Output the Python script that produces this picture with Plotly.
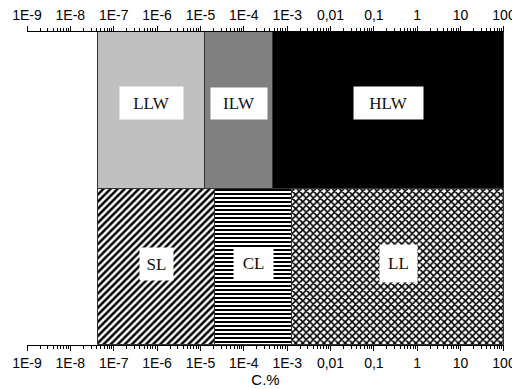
import numpy as np
import plotly.graph_objects as go

# ---- data ----
categories = ["LLW", "ILW", "HLW", "SL", "CL", "LL"]
lower = [4.3e-8, 1.25e-5, 4.6e-4, 4.3e-8, 2.2e-5, 1.3e-3]
upper = [1.25e-5, 4.6e-4, 100.0, 2.2e-5, 1.3e-3, 100.0]
row = [1.5, 1.5, 1.5, 0.5, 0.5, 0.5]
tick_vals = [1e-9, 1e-8, 1e-7, 1e-6, 1e-5, 1e-4, 1e-3, 1e-2, 1e-1, 1, 10, 100]
tick_text = ["1E-9", "1E-8", "1E-7", "1E-6", "1E-5", "1E-4", "1E-3", "0,01", "0,1", "1", "10", "100"]

# ---- styles ----
fills = {"LLW": "#c0c0c0", "ILW": "#808080", "HLW": "#000000",
         "SL": "white", "CL": "white", "LL": "white"}
patterns = {"SL": dict(shape="/", size=5, solidity=0.5, fgcolor="black", bgcolor="white", fgopacity=1),
            "CL": dict(shape="-", size=4, solidity=0.5, fgcolor="black", bgcolor="white", fgopacity=1),
            "LL": dict(shape="x", size=5, solidity=0.55, fgcolor="black", bgcolor="white", fgopacity=1)}
box_size = {"LLW": (63, 32), "ILW": (56, 31), "HLW": (69, 32),
            "SL": (33, 32), "CL": (39, 31), "LL": (37, 37)}
label_y = {1.5: 1.545, 0.5: 0.52}

fig = go.Figure()
for c, lo, hi, r in zip(categories, lower, upper, row):
    marker = dict(color=fills[c], line=dict(color="#333333", width=1))
    if c in patterns:
        marker["pattern"] = patterns[c]
    fig.add_trace(go.Bar(orientation="h", y=[r], x=[hi - lo], base=[lo], width=1,
                         marker=marker, showlegend=False, hoverinfo="skip"))

# invisible trace for top axis
fig.add_trace(go.Scatter(x=[1e-9, 100], y=[0, 0], xaxis="x2", mode="markers",
                         marker=dict(opacity=0), showlegend=False, hoverinfo="skip"))

minor_vals = [m * 10.0 ** e for e in range(-9, 2) for m in range(2, 10)]

axis_common = dict(type="log", range=[-9, 2.0005], tickvals=tick_vals, ticktext=tick_text,
                   ticks="outside", ticklen=5, tickwidth=1, tickcolor="black",
                   showline=True, linecolor="black", linewidth=1, showgrid=False,
                   zeroline=False, automargin=False, ticklabeloverflow="allow",
                   tickfont=dict(family="Liberation Sans, Arial", size=14, color="black"),
                   minor=dict(tickvals=minor_vals, ticks="outside", ticklen=3,
                              tickcolor="black", showgrid=False))

annotations = []
for c, lo, hi, r in zip(categories, lower, upper, row):
    w, h = box_size[c]
    annotations.append(dict(x=(np.log10(lo) + np.log10(hi)) / 2, y=label_y[r],
                            xref="x", yref="y", text=c, showarrow=False,
                            bgcolor="white", width=w, height=h, borderpad=0,
                            font=dict(family="Liberation Serif, Times New Roman", size=17,
                                      color="#111111")))

fig.update_layout(
    width=512, height=389,
    margin=dict(l=27, r=8, t=32, b=44),
    paper_bgcolor="white", plot_bgcolor="white",
    bargap=0, barmode="overlay",
    xaxis=dict(**axis_common, side="bottom",
               title=dict(text="C.%", standoff=3,
                          font=dict(family="Liberation Sans, Arial", size=15, color="black"))),
    xaxis2=dict(**axis_common, side="top", overlaying="x", matches="x"),
    yaxis=dict(range=[0, 2], visible=False, fixedrange=True),
    annotations=annotations,
)

fig.write_html("out.html", config={"displayModeBar": False},
               post_script="document.body.style.margin='0';document.body.style.overflow='hidden';")
